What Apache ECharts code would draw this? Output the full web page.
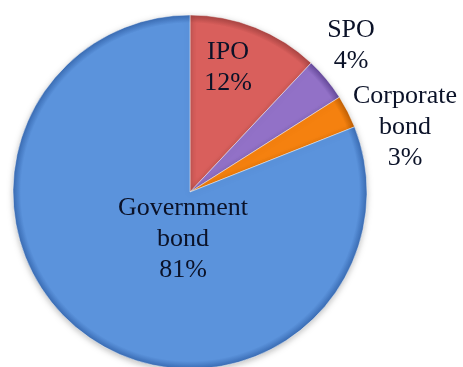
<!DOCTYPE html>
<html>
<head>
<meta charset="utf-8">
<script src="https://cdn.jsdelivr.net/npm/echarts@6/dist/echarts.min.js"></script>
<style>
  html, body { margin: 0; padding: 0; background: #ffffff; }
  #chart { width: 463px; height: 367px; }
</style>
</head>
<body>
<div id="chart"></div>
<script>
// Shares of funds raised, by instrument (percent)
const categories = ['IPO', 'SPO', 'Corporate\nbond', 'Government\nbond'];
const shares = [12, 4, 3, 81];
const sliceColors = ['#d95f5c', '#9271c7', '#f5810f', '#5b93dc'];
const sliceEdges = ['#a94442', '#64489a', '#c06005', '#3a6cb4'];

// Where each label block is centred
const labelSpots = [
  [228, 68],
  [351, 46],
  [405, 127],
  [183, 239]
];

const CX = 190, CY = 192, R = 177;

const chart = echarts.init(document.getElementById('chart'), null, { renderer: 'canvas' });

const data = categories.map((name, i) => ({
  name: name,
  value: shares[i],
  itemStyle: {
    // global radial shading: flat face with a darker bevelled rim
    color: {
      type: 'radial', x: CX, y: CY, r: R, global: true,
      colorStops: [
        { offset: 0, color: sliceColors[i] },
        { offset: 0.955, color: sliceColors[i] },
        { offset: 1, color: sliceEdges[i] }
      ]
    }
  }
}));

chart.setOption({
  animation: false,
  series: [{
    type: 'pie',
    center: [CX, CY],
    radius: R,
    startAngle: 90,
    clockwise: true,
    avoidLabelOverlap: false,
    itemStyle: {
      borderColor: 'rgba(255,255,255,0.45)',
      borderWidth: 1,
      shadowBlur: 6,
      shadowOffsetY: 2,
      shadowColor: 'rgba(0,0,0,0.25)'
    },
    label: {
      position: 'inside',
      formatter: '{b}\n{c}%',
      fontFamily: '"Liberation Serif", "Times New Roman", serif',
      fontSize: 26,
      lineHeight: 31,
      color: '#0b1228',
      align: 'center'
    },
    labelLine: { show: false },
    labelLayout: function (params) {
      const p = labelSpots[params.dataIndex];
      return { x: p[0], y: p[1], align: 'center', verticalAlign: 'middle' };
    },
    data: data
  }]
});
</script>
</body>
</html>
